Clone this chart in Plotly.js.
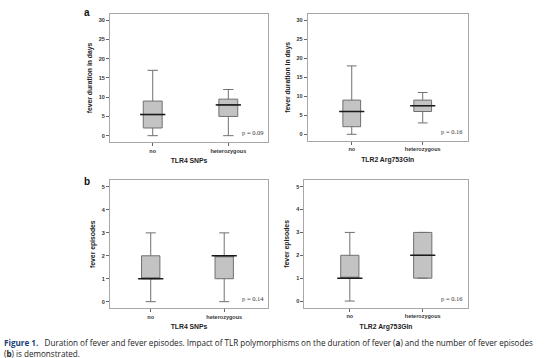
<!DOCTYPE html>
<html>
<head>
<meta charset="utf-8">
<script src="https://cdn.plot.ly/plotly-3.0.1.min.js"></script>
<style>
html,body{margin:0;padding:0;background:#fff;}
#chart{width:550px;height:358px;}
</style>
</head>
<body>
<div id="chart"></div>
<script>
// Categories and tick labels
const categories = ['no', 'heterozygous'];
const durationTicks = [0, 5, 10, 15, 20, 25, 30];
const episodeTicks = [0, 1, 2, 3, 4, 5];

// Panel a, left: TLR4 SNPs – fever duration in days
const tlr4DurMin    = [0, 0];
const tlr4DurQ1     = [2, 5];
const tlr4DurMedian = [5.5, 8];
const tlr4DurQ3     = [9, 9.5];
const tlr4DurMax    = [17, 12];

// Panel a, right: TLR2 Arg753Gln – fever duration in days
const tlr2DurMin    = [0, 3];
const tlr2DurQ1     = [2, 6];
const tlr2DurMedian = [6, 7.5];
const tlr2DurQ3     = [9, 9];
const tlr2DurMax    = [18, 11];

// Panel b, left: TLR4 SNPs – fever episodes
const tlr4EpiMin    = [0, 0];
const tlr4EpiQ1     = [1, 1];
const tlr4EpiMedian = [1, 2];
const tlr4EpiQ3     = [2, 2];
const tlr4EpiMax    = [3, 3];

// Panel b, right: TLR2 Arg753Gln – fever episodes
const tlr2EpiMin    = [0, 1];
const tlr2EpiQ1     = [1, 1];
const tlr2EpiMedian = [1, 2];
const tlr2EpiQ3     = [2, 3];
const tlr2EpiMax    = [3, 3];

const pValues = ['p = 0.09', 'p = 0.16', 'p = 0.14', 'p = 0.16'];
const xTitles = ['TLR4 SNPs', 'TLR2 Arg753Gln', 'TLR4 SNPs', 'TLR2 Arg753Gln'];
const yTitles = ['fever duration in days', 'fever duration in days', 'fever episodes', 'fever episodes'];
const captionText = '<span style="color:#1d3f7a"><b>Figure 1.</b></span>   Duration of fever and fever episodes. Impact of TLR polymorphisms on the duration of fever (<b>a</b>) and the number of fever episodes<br>(<b>b</b>) is demonstrated.';

const panels = [
  {min: tlr4DurMin, q1: tlr4DurQ1, med: tlr4DurMedian, q3: tlr4DurQ3, max: tlr4DurMax, xa: 'x', ya: 'y'},
  {min: tlr2DurMin, q1: tlr2DurQ1, med: tlr2DurMedian, q3: tlr2DurQ3, max: tlr2DurMax, xa: 'x2', ya: 'y2'},
  {min: tlr4EpiMin, q1: tlr4EpiQ1, med: tlr4EpiMedian, q3: tlr4EpiQ3, max: tlr4EpiMax, xa: 'x3', ya: 'y3'},
  {min: tlr2EpiMin, q1: tlr2EpiQ1, med: tlr2EpiMedian, q3: tlr2EpiQ3, max: tlr2EpiMax, xa: 'x4', ya: 'y4'}
];

const traces = [];
panels.forEach(p => {
  traces.push({
    type: 'box', x: categories, q1: p.q1, median: p.med, q3: p.q3,
    lowerfence: p.min, upperfence: p.max, boxpoints: false,
    width: 0.25, whiskerwidth: 0.55,
    fillcolor: '#c3c3c3', line: {color: '#707070', width: 1},
    xaxis: p.xa, yaxis: p.ya, hoverinfo: 'skip', showlegend: false
  });
  traces.push({
    type: 'scatter', mode: 'markers', x: categories, y: p.med,
    marker: {symbol: 'line-ew', size: 18, line: {color: '#1a1a1a', width: 1.6}},
    xaxis: p.xa, yaxis: p.ya, hoverinfo: 'skip', showlegend: false
  });
});

const tickFont = {family: 'Liberation Sans, Arial, sans-serif', size: 5.5, color: '#333', weight: 'bold'};
const titleFont = {family: 'Liberation Sans, Arial, sans-serif', size: 6.8, color: '#222', weight: 'bold'};

function xax(domain, range, title, anchor) {
  return {
    domain: domain, range: range, type: 'category', anchor: anchor,
    showline: true, mirror: true, linecolor: '#a8a8a8', linewidth: 1,
    ticks: 'outside', ticklen: 3, tickcolor: '#666', tickwidth: 1,
    showgrid: false, zeroline: false, fixedrange: true,
    tickfont: tickFont,
    title: {text: title, font: titleFont, standoff: 5}
  };
}
function yax(domain, range, tickvals, title, anchor) {
  return {
    domain: domain, range: range, tickvals: tickvals, anchor: anchor,
    showline: true, mirror: true, linecolor: '#a8a8a8', linewidth: 1,
    ticks: 'outside', ticklen: 3, tickcolor: '#666', tickwidth: 1,
    showgrid: false, zeroline: false, fixedrange: true,
    tickfont: tickFont,
    title: {text: title, font: titleFont, standoff: 5}
  };
}

const layout = {
  width: 550, height: 358,
  margin: {l: 0, r: 0, t: 0, b: 0},
  paper_bgcolor: '#fff', plot_bgcolor: '#fff',
  showlegend: false,
  xaxis:  xax([0.2, 0.4873], [-0.565, 1.525], xTitles[0], 'y'),
  yaxis:  yax([0.6034, 0.9609], [-1.64, 31.64], durationTicks, yTitles[0], 'x'),
  xaxis2: xax([0.5595, 0.8504], [-0.62, 1.634], xTitles[1], 'y2'),
  yaxis2: yax([0.607, 0.9609], [-1.68, 31.66], durationTicks, yTitles[1], 'x2'),
  xaxis3: xax([0.2, 0.4873], [-0.554, 1.596], xTitles[2], 'y3'),
  yaxis3: yax([0.1388, 0.4972], [-0.29, 5.305], episodeTicks, yTitles[2], 'x3'),
  xaxis4: xax([0.5533, 0.8504], [-0.624, 1.617], xTitles[3], 'y4'),
  yaxis4: yax([0.1405, 0.4972], [-0.29, 5.29], episodeTicks, yTitles[3], 'x4'),
  annotations: []
};

const axPairs = [['x', 'y'], ['x2', 'y2'], ['x3', 'y3'], ['x4', 'y4']];
axPairs.forEach((ap, i) => {
  layout.annotations.push({
    xref: ap[0] + ' domain', yref: ap[1] + ' domain', x: 0.985, y: 0.03,
    xanchor: 'right', yanchor: 'bottom', showarrow: false,
    text: pValues[i],
    font: {family: 'Liberation Serif, Times New Roman, serif', size: 6.5, color: '#333'}
  });
});

// Panel letters
layout.annotations.push({xref: 'paper', yref: 'paper', x: 87/550, y: 1 - 13/358, xanchor: 'center', yanchor: 'middle',
  showarrow: false, text: '<b>a</b>', font: {family: 'Liberation Sans, Arial, sans-serif', size: 10, color: '#111'}});
layout.annotations.push({xref: 'paper', yref: 'paper', x: 87/550, y: 1 - 181/358, xanchor: 'center', yanchor: 'middle',
  showarrow: false, text: '<b>b</b>', font: {family: 'Liberation Sans, Arial, sans-serif', size: 10, color: '#111'}});

// Caption
layout.annotations.push({xref: 'paper', yref: 'paper', x: 2/550, y: 1 - 347.8/358,
  xanchor: 'left', yanchor: 'middle', align: 'left', showarrow: false,
  text: captionText,
  font: {family: 'Open Sans, sans-serif', size: 8.1, color: '#222'}});

Plotly.newPlot('chart', traces, layout, {staticPlot: true, displayModeBar: false});
</script>
</body>
</html>
